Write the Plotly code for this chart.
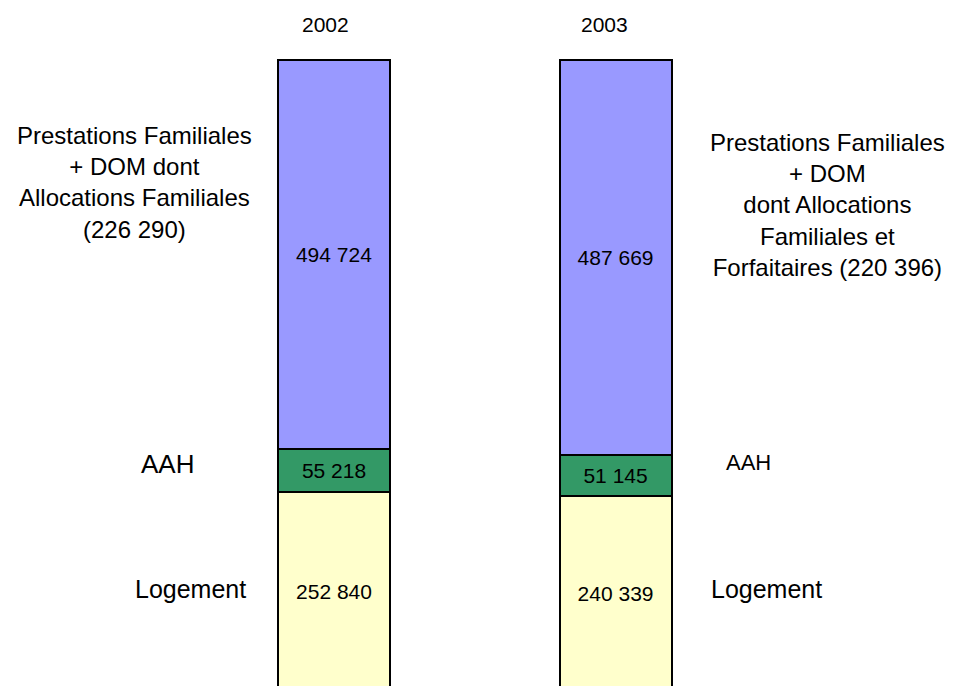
import plotly.graph_objects as go

years = ["2002", "2003"]
logement = [252840, 240339]
aah = [55218, 51145]
prestations = [494724, 487669]

series_names = ["Logement", "AAH", "Prestations Familiales"]
series_colors = ["#FFFFCC", "#339966", "#9999FF"]

W, H = 953, 686
OFF = 8  # page body margin


def fmt(v):
    return f"{v:,}".replace(",", " ")


fig = go.Figure()
for name, vals, col in zip(series_names, [logement, aah, prestations], series_colors):
    fig.add_trace(go.Bar(
        x=years, y=vals, name=name,
        marker=dict(color=col, line=dict(color="black", width=2)),
        text=[fmt(v) for v in vals], textposition="inside",
        insidetextanchor="middle", textangle=0,
        textfont=dict(size=21, color="black", family="Liberation Sans, Arial"),
        width=0.398,
    ))


def px_x(p):
    return (p - OFF) / W


def px_y(p):
    return 1 - (p - OFF) / H


notes = [
    # text, x center px, y center px, size
    ("2002", 325, 25, 21),
    ("2003", 604, 25, 21),
    ("Prestations Familiales<br>+ DOM dont<br>Allocations Familiales<br>(226 290)", 134, 183, 24),
    ("AAH", 167, 464, 26),
    ("Logement", 190, 589, 25),
    ("Prestations Familiales<br>+ DOM<br>dont Allocations<br>Familiales et<br>Forfaitaires (220 396)", 827, 205, 24),
    ("AAH", 748, 462, 22),
    ("Logement", 766, 589, 25),
]
for txt, x, y, s in notes:
    fig.add_annotation(
        text=txt, x=px_x(x), y=px_y(y), xref="paper", yref="paper",
        xanchor="center", yanchor="middle", showarrow=False, align="center",
        font=dict(size=s, color="black", family="Liberation Sans, Arial"),
    )

fig.update_layout(
    barmode="stack", barnorm="percent",
    width=W, height=H,
    margin=dict(l=0, r=0, t=0, b=0),
    paper_bgcolor="white", plot_bgcolor="white",
    showlegend=False,
    xaxis=dict(range=[-1.158, 2.227], visible=False),
    yaxis=dict(range=[-0.475, 108.24], visible=False),
    uniformtext=dict(mode=False),
)

fig.write_html("out.html")
